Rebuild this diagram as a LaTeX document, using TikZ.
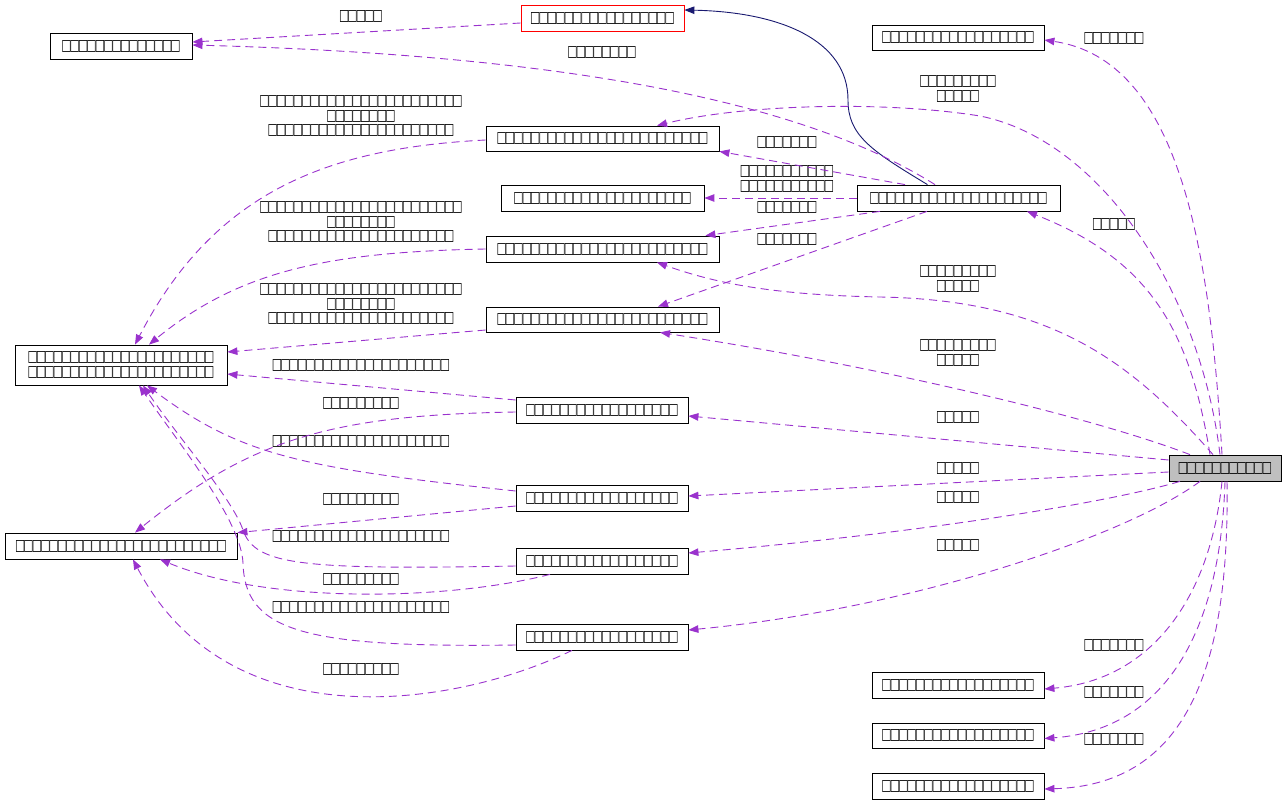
\documentclass[tikz,border=0pt]{standalone}
\usepackage{fontspec}
\usetikzlibrary{arrows.meta}
\newfontfamily\tofufont{DejaVu Sans}
\definecolor{purp}{HTML}{9A32CD}
\definecolor{navy}{HTML}{191970}
\definecolor{gfill}{HTML}{BFBFBF}
\newcommand\tbx{\makebox[8.4pt]{\scalebox{0.7}[1]{□}}}
\ExplSyntaxOn
\NewDocumentCommand\tfu{m}{\prg_replicate:nn{#1}{\tbx}}
\ExplSyntaxOff
\newcommand\tfont{\tofufont\fontsize{15.5pt}{14.5pt}\selectfont}
\begin{document}
\begin{tikzpicture}[x=1pt,y=-1pt,
  cls/.style={draw=black, line width=0.8pt, inner sep=0pt, minimum height=26pt, font=\tfont, align=center},
  lbl/.style={inner sep=0pt, font=\tfont, align=center},
  rel/.style={draw=purp, dash pattern=on 8pt off 5pt, line width=0.9pt, -{Triangle[length=10pt,width=7.5pt]}},
  nav/.style={draw=navy, line width=0.9pt, -{Triangle[length=10pt,width=7.5pt]}}]
\useasboundingbox (0,0) rectangle (1287,805);
% nodes
\node[cls,minimum width=142pt] (tl) at (121,46) {\tfu{14}};
\node[cls,draw=red,minimum width=163pt] (red) at (602.5,18) {\tfu{17}};
\node[cls,minimum width=172pt,minimum height=25pt] (tr) at (958,37.5) {\tfu{18}};
\node[cls,minimum width=233pt,minimum height=25pt] (na) at (602.5,138.5) {\tfu{25}};
\node[cls,minimum width=203pt] (nb) at (602.5,198) {\tfu{21}};
\node[cls,minimum width=233pt] (nc) at (602.5,249) {\tfu{25}};
\node[cls,minimum width=233pt,minimum height=25pt] (nd) at (602.5,319.5) {\tfu{25}};
\node[cls,minimum width=203pt] (cen) at (958.5,198) {\tfu{21}};
\node[cls,fill=gfill,minimum width=112pt] (main) at (1225,468) {\tfu{11}};
\node[cls,minimum width=212pt,minimum height=40pt] (big) at (121,365) {\tfu{22}\\\tfu{22}};
\node[cls,minimum width=232pt] (l2) at (121,546) {\tfu{25}};
\node[cls,minimum width=172pt] (ne) at (602,410) {\tfu{18}};
\node[cls,minimum width=172pt] (nf) at (602,498) {\tfu{18}};
\node[cls,minimum width=172pt] (ng) at (602,561) {\tfu{18}};
\node[cls,minimum width=172pt] (nh) at (602,637) {\tfu{18}};
\node[cls,minimum width=172pt] (r1) at (958,685) {\tfu{18}};
\node[cls,minimum width=172pt,minimum height=25pt] (r2) at (958,735.5) {\tfu{18}};
\node[cls,minimum width=172pt] (r3) at (958,786) {\tfu{18}};
% labels
\node[lbl] (L2) at (361,16) {\tfu{5}};
\node[lbl] (L3) at (602,52) {\tfu{8}};
\node[lbl] (L4) at (1114,38) {\tfu{7}};
\node[lbl] (L5) at (958,89) {\tfu{9}\\\tfu{5}};
\node[lbl] (L6) at (787,142) {\tfu{7}};
\node[lbl] (L7) at (787,179) {\tfu{11}\\\tfu{11}};
\node[lbl] (L8) at (787,207) {\tfu{7}};
\node[lbl] (L9) at (787,239) {\tfu{7}};
\node[lbl] (L10) at (958,279) {\tfu{9}\\\tfu{5}};
\node[lbl] (L11) at (958,353) {\tfu{9}\\\tfu{5}};
\node[lbl] (L12) at (1114,224) {\tfu{5}};
\node[lbl] (L13) at (958,417) {\tfu{5}};
\node[lbl] (L14) at (958,468) {\tfu{5}};
\node[lbl] (L15) at (958,497) {\tfu{5}};
\node[lbl] (L16) at (958,545) {\tfu{5}};
\node[lbl] (L17) at (1114,645) {\tfu{7}};
\node[lbl] (L18) at (1114,692) {\tfu{7}};
\node[lbl] (L19) at (1114,739) {\tfu{7}};
\node[lbl] (L20) at (361,116) {\tfu{24}\\\tfu{8}\\\tfu{22}};
\node[lbl] (L21) at (361,222) {\tfu{24}\\\tfu{8}\\\tfu{22}};
\node[lbl] (L22) at (361,304) {\tfu{24}\\\tfu{8}\\\tfu{22}};
\node[lbl] (L23) at (361,365) {\tfu{21}};
\node[lbl] (L24) at (361,441) {\tfu{21}};
\node[lbl] (L25) at (361,536) {\tfu{21}};
\node[lbl] (L26) at (361,607) {\tfu{21}};
\node[lbl] (L27) at (361,403) {\tfu{9}};
\node[lbl] (L28) at (361,499) {\tfu{9}};
\node[lbl] (L29) at (361,579) {\tfu{9}};
\node[lbl] (L30) at (361,669) {\tfu{9}};
% edges
\draw[nav] ([xshift=-31pt]cen.north) .. controls (870,150) and (848,135) .. (848,100) .. controls (848,40) and (780,12) .. ([yshift=8pt]red.east);
\draw[rel] ([yshift=-5pt]red.west) -- ([yshift=4pt]tl.east);
\draw[rel] ([xshift=-23.5pt]cen.north) .. controls (800,100) and (560,55) .. ([yshift=1pt]tl.east);
\draw[rel] ([xshift=-3pt]main.north) .. controls (1210,250) and (1180,60) .. ([yshift=-2.5pt]tr.east);
\draw[rel] ([xshift=-5pt]main.north) .. controls (1200,290) and (1100,140) .. (980,116) .. controls (880,100) and (740,105) .. ([xshift=54.5pt]na.north);
\draw[rel] ([xshift=-53.5pt]cen.north) -- (na.south east);
\draw[rel] (cen.west) -- (nb.east);
\draw[rel] ([xshift=-78.5pt]cen.south) -- ([xshift=-14pt]nc.north east);
\draw[rel] ([xshift=-31.5pt]cen.south) -- ([xshift=55.5pt]nd.north);
\draw[rel] ([xshift=-12pt]main.north) .. controls (1130,360) and (1050,300) .. (880,297) .. controls (780,295) and (720,285) .. ([xshift=54.5pt]nc.south);
\draw[rel] ([xshift=-35pt]main.north) .. controls (1100,420) and (900,370) .. ([xshift=57.5pt]nd.south);
\draw[rel] ([xshift=-15pt]main.north) .. controls (1190,330) and (1150,260) .. ([xshift=68.5pt]cen.south);
\draw[rel] ([yshift=8pt]main.west) -- ([yshift=-6pt]ne.east);
\draw[rel] ([yshift=-4pt]main.west) -- ([yshift=2pt]nf.east);
\draw[rel] ([xshift=-45pt]main.south) .. controls (1100,505) and (900,535) .. ([yshift=8pt]ng.east);
\draw[rel] ([xshift=-25pt]main.south) .. controls (1120,540) and (900,610) .. ([yshift=7pt]nh.east);
\draw[rel] ([xshift=-3pt]main.south) .. controls (1210,600) and (1150,680) .. ([yshift=-4pt]r1.east);
\draw[rel] (main.south) .. controls (1220,640) and (1160,730) .. ([yshift=-3pt]r2.east);
\draw[rel] ([xshift=2pt]main.south) .. controls (1230,680) and (1180,785) .. ([yshift=-3pt]r3.east);
\draw[rel] ([yshift=-1.5pt]na.west) .. controls (330,148) and (215,190) .. ([xshift=14pt]big.north);
\draw[rel] (nc.west) .. controls (330,252) and (240,270) .. ([xshift=28pt]big.north);
\draw[rel] ([yshift=-10.5pt]nd.west) -- ([yshift=13pt]big.east);
\draw[rel] ([yshift=10pt]ne.west) -- ([yshift=-9pt]big.east);
\draw[rel] ([yshift=7pt]nf.west) .. controls (300,468) and (240,455) .. ([xshift=26pt]big.south);
\draw[rel] ([yshift=-5pt]ng.west) .. controls (300,570) and (255,565) .. (243,530) .. controls (232,498) and (180,440) .. ([xshift=22pt]big.south);
\draw[rel] ([yshift=-8pt]nh.west) .. controls (300,648) and (245,630) .. (243,563) .. controls (241,520) and (180,445) .. ([xshift=18pt]big.south);
\draw[rel] ([yshift=-2pt]ne.west) .. controls (330,415) and (250,440) .. ([xshift=14pt]l2.north);
\draw[rel] ([yshift=-8pt]nf.west) -- (l2.north east);
\draw[rel] ([xshift=-52pt]ng.south) .. controls (450,600) and (270,605) .. ([xshift=39pt]l2.south);
\draw[rel] ([xshift=-30pt]nh.south) .. controls (460,705) and (230,745) .. ([xshift=12pt]l2.south);
\end{tikzpicture}
\end{document}
